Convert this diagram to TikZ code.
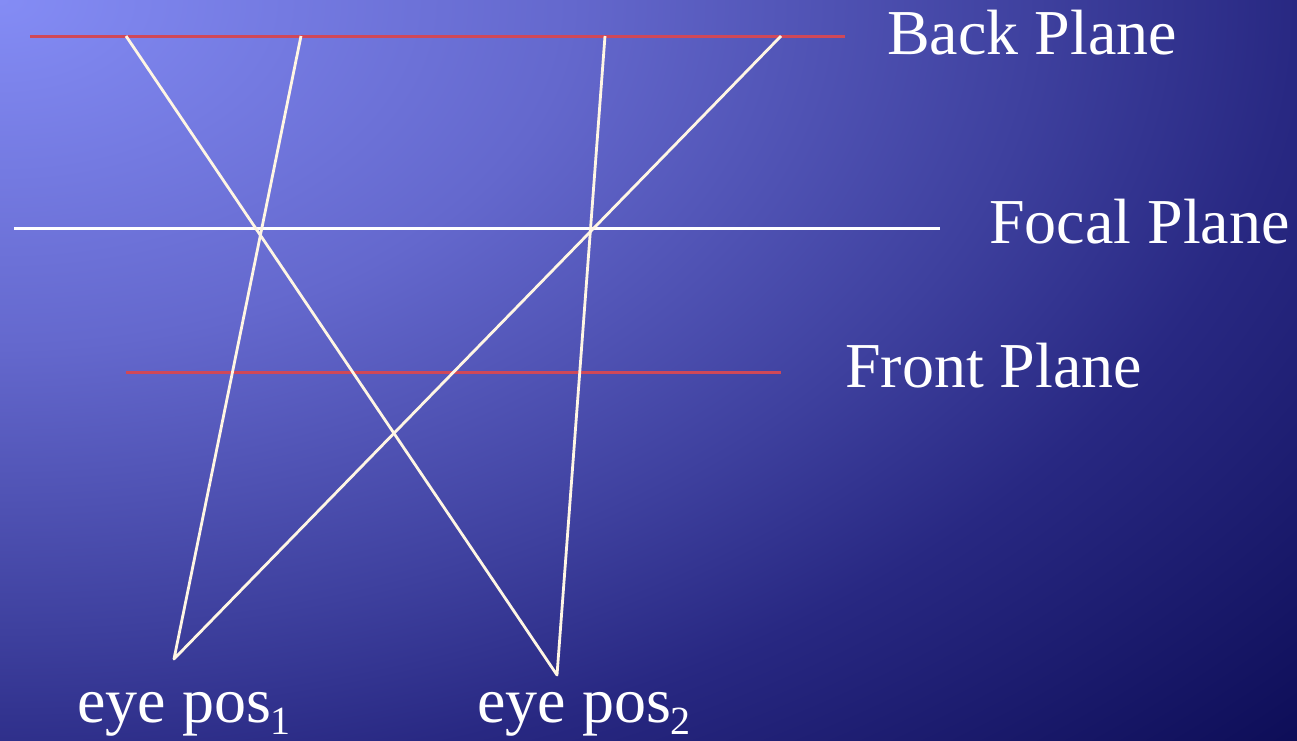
\documentclass[tikz,border=0pt]{standalone}
\usepackage{fontspec}
\setmainfont{Liberation Serif}
\definecolor{bgA}{RGB}{132,140,245}
\definecolor{bgB}{RGB}{100,104,205}
\definecolor{bgC}{RGB}{62,64,158}
\definecolor{bgD}{RGB}{40,40,130}
\definecolor{bgE}{RGB}{10,10,82}
\definecolor{planered}{RGB}{208,72,88}
\definecolor{raycol}{RGB}{255,246,228}
\pgfdeclareradialshading{bgshade}{\pgfpoint{0bp}{0bp}}{color(0bp)=(bgA); color(11bp)=(bgB); color(20bp)=(bgC); color(25bp)=(bgD); color(35.5bp)=(bgE); color(50bp)=(bgE)}
\tikzset{
  redplane/.style={draw=planered, line width=3pt},
  focalplane/.style={draw=white, line width=3pt},
  ray/.style={draw=raycol, line width=2.8pt},
  lbl/.style={text=white, font=\fontsize{64}{64}\selectfont, inner sep=0pt, anchor=base west},
}
\newcommand{\subnum}[1]{\raisebox{-12pt}{\fontsize{40}{40}\selectfont #1}}
\begin{document}
\begin{tikzpicture}[x=1pt,y=-1pt]
\useasboundingbox (0,0) rectangle (1297,740);
\begin{scope}
  \clip (0,0) rectangle (1297,740);
  \shade[shading=bgshade] (-1297,-790) rectangle (1297,790);
\end{scope}
% plane end points
\coordinate (bpL) at (30,36);
\coordinate (bpR) at (845,36);
\coordinate (fpL) at (14,228);
\coordinate (fpR) at (940,228);
\coordinate (frL) at (126,372);
\coordinate (frR) at (781,372);
% eye positions
\coordinate (eye1) at (174,659);
\coordinate (eye2) at (557,675);
% ray ends on back plane
\coordinate (b1) at (126,36);
\coordinate (b2) at (301,36);
\coordinate (b3) at (605,36);
\coordinate (b4) at (781,36);
% planes
\draw[redplane] (bpL) -- (bpR);
\draw[redplane] (frL) -- (frR);
\draw[focalplane] (fpL) -- (fpR);
% rays
\draw[ray, line join=round] (b2) -- (eye1) -- (b4);
\draw[ray, line join=round] (b1) -- (eye2) -- (b3);
% labels
\node[lbl] (back) at (887,54) {Back Plane};
\node[lbl] (focal) at (989,243) {Focal Plane};
\node[lbl] (front) at (845,387) {Front Plane};
\node[lbl] (e1) at (77,722) {eye pos\subnum{1}};
\node[lbl] (e2) at (477,722) {eye pos\subnum{2}};
\end{tikzpicture}
\end{document}
